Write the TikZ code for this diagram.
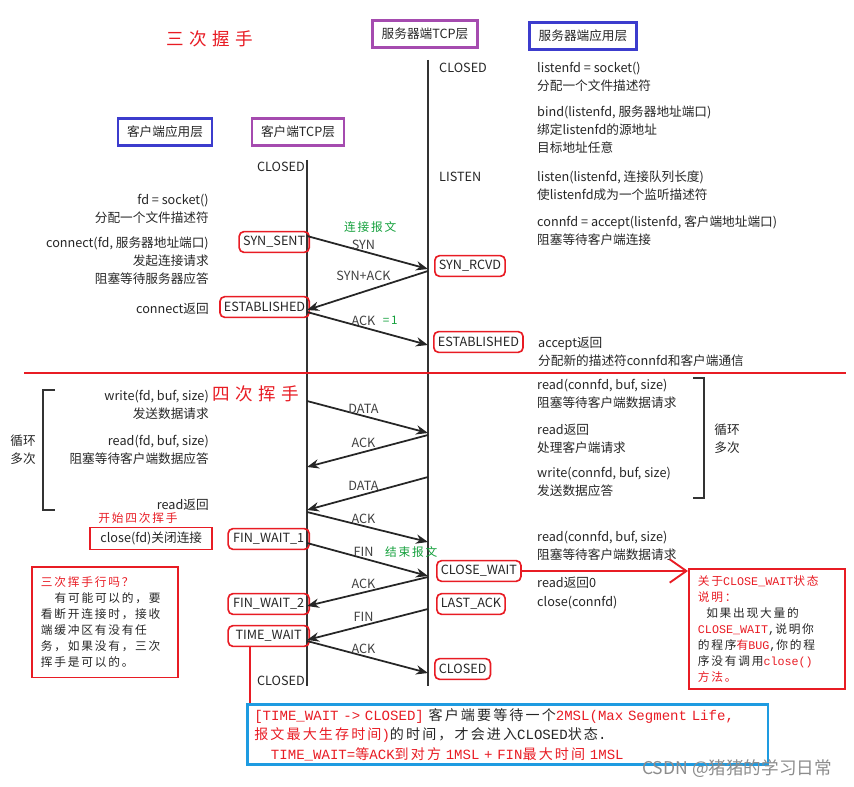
\documentclass[tikz,border=0pt]{standalone}
\usepackage{fontspec}
\setmainfont{Noto Sans CJK SC}
\newfontfamily\notefont[LetterSpace=15]{Noto Sans CJK SC}
\newfontfamily\titlefont[LetterSpace=30]{Noto Sans CJK SC}
\newfontfamily\notemono{Liberation Mono}
\usetikzlibrary{positioning,arrows.meta}

\definecolor{tcpred}{RGB}{232,28,36}
\definecolor{layerpurple}{RGB}{165,75,175}
\definecolor{layerblue}{RGB}{60,60,205}
\definecolor{notecyan}{RGB}{30,155,225}
\definecolor{notegreen}{RGB}{20,160,60}

\newcommand{\mn}[1]{{\notemono #1}}
\newcommand{\rd}[1]{\textcolor{tcpred}{#1}}

\begin{document}
\begin{tikzpicture}[x=0.03cm, y=-0.03cm,
  font=\fontsize{10.8}{15.3}\selectfont, text=black!85,
  layer/.style={draw=#1, line width=2.2pt, inner xsep=0.27cm, minimum height=0.8cm},
  state/.style={draw=tcpred, line width=1.4pt, rounded corners=4pt, inner xsep=0.12cm,
    inner ysep=0pt, minimum height=0.62cm},
  apptext/.style={align=left, inner sep=0pt},
  timeline/.style={line width=2.2pt, black!80},
  msg/.style={line width=1.5pt, black!85, -{Stealth[length=3.6mm,width=2.8mm]}},
  msglabel/.style={midway, above, inner sep=2pt, xshift=-0.12cm, text=black!75},
  redline/.style={draw=tcpred, line width=1.6pt},
  bracket/.style={line width=1.6pt, black!80},
  notebox/.style={draw=tcpred, line width=1.6pt, align=left, anchor=north west,
    font=\notefont\fontsize{10}{13.6}\selectfont},
  greennote/.style={text=notegreen, font=\notefont\fontsize{10}{12}\selectfont, inner sep=0pt},
  heading/.style={text=tcpred, font=\titlefont\fontsize{15}{18}\selectfont, inner sep=0pt}
]
\useasboundingbox (0,0) rectangle (854,787);

% titles and layers
\node[heading] (threeway) at (210,39) {三次握手};
\node[heading] (fourway) at (256,394) {四次挥手};
\node[layer=layerpurple] (srvtcp) at (425,34) {服务器端TCP层};
\node[layer=layerblue] (srvapp) at (583,36) {服务器端应用层};
\node[layer=layerblue] (cliapp) at (165,132) {客户端应用层};
\node[layer=layerpurple] (clitcp) at (298,132) {客户端TCP层};

% time lines
\coordinate (ctop) at (307,160);
\coordinate (cbot) at (307,686);
\coordinate (stop) at (428,60);
\coordinate (sbot) at (428,686);
\draw[timeline] (ctop) -- (cbot);
\draw[timeline] (stop) -- (sbot);

% client side
\node[anchor=east, inner sep=0pt] (cclosed) at (305,167) {CLOSED};
\node[apptext, anchor=east, align=right] (clisock) at (209,208.5) {fd = socket()\\分配一个文件描述符};
\node[apptext, anchor=east, align=right] (cliconn) at (209,260.5) {connect(fd, 服务器地址端口)\\发起连接请求\\阻塞等待服务器应答};
\node[apptext, anchor=east] (cliconnret) at (209,309) {connect返回};
\node[state, anchor=east] (synsent) at (310,242) {SYN\_SENT};
\node[state, anchor=east] (cestab) at (310,307) {ESTABLISHED};
\node[apptext, anchor=east, align=right] (cliwrite) at (209,405) {write(fd, buf, size)\\发送数据请求};
\node[apptext, anchor=east, align=right] (cliread) at (209,449.5) {read(fd, buf, size)\\阻塞等待客户端数据应答};
\node[apptext, anchor=east] (clireadret) at (209,505) {read返回};
\node[align=center, inner sep=0pt] (cliloop) at (23,450) {循环\\多次};
\draw[bracket] (55,390) -| (43,510) -- (55,510);
\node[text=tcpred, font=\notefont\fontsize{10}{12}\selectfont, inner sep=0pt] (fourstart) at (138,518) {开始四次挥手};
\node[draw=tcpred, line width=1.6pt, inner xsep=0.3cm, minimum height=0.66cm, anchor=east] (cliclose) at (213,538.5) {close(fd)关闭连接};
\node[state, anchor=east, minimum width=2.43cm] (finwait1) at (310,539) {FIN\_WAIT\_1};
\node[state, anchor=east, minimum width=2.43cm] (finwait2) at (310,604) {FIN\_WAIT\_2};
\node[state, anchor=east, minimum width=2.43cm] (timewait) at (310,636) {TIME\_WAIT};
\node[anchor=east, inner sep=0pt] (cclosed2) at (305,681) {CLOSED};

% server side
\node[anchor=west, inner sep=0pt] (sclosed) at (439,68) {CLOSED};
\node[anchor=west, inner sep=0pt] (slisten) at (439,177) {LISTEN};
\node[apptext, anchor=west] (srvsock) at (537,77) {listenfd = socket()\\分配一个文件描述符};
\node[apptext, anchor=west] (srvbind) at (537,129.5) {bind(listenfd, 服务器地址端口)\\绑定listenfd的源地址\\目标地址任意};
\node[apptext, anchor=west] (srvlisten) at (537,186) {listen(listenfd, 连接队列长度)\\使listenfd成为一个监听描述符};
\node[apptext, anchor=west] (srvaccept) at (537,231) {connfd = accept(listenfd, 客户端地址端口)\\阻塞等待客户端连接};
\node[state, anchor=west] (synrcvd) at (434,266) {SYN\_RCVD};
\node[state, anchor=west] (sestab) at (433,342) {ESTABLISHED};
\node[apptext, anchor=west] (srvaccret) at (538,351.5) {accept返回\\分配新的描述符connfd和客户端通信};
\node[apptext, anchor=west] (srvread) at (537,394) {read(connfd, buf, size)\\阻塞等待客户端数据请求};
\node[apptext, anchor=west] (srvreadret) at (537,438.5) {read返回\\处理客户端请求};
\node[apptext, anchor=west] (srvwrite) at (537,481.5) {write(connfd, buf, size)\\发送数据应答};
\draw[bracket] (693,378) -| (704,498) -- (693,498);
\node[align=center, inner sep=0pt] (srvloop) at (727,439) {循环\\多次};
\node[apptext, anchor=west] (srvread2) at (537,545.5) {read(connfd, buf, size)\\阻塞等待客户端数据请求};
\node[apptext, anchor=west] (srvread0) at (537,583) {read返回0};
\node[apptext, anchor=west] (srvclose) at (537,603) {close(connfd)};
\node[state, anchor=west] (closewait) at (436,571) {CLOSE\_WAIT};
\node[state, anchor=west] (lastack) at (436,604) {LAST\_ACK};
\node[state, anchor=west] (sclosed2) at (434,669) {CLOSED};

% messages
\foreach \i/\y in {1/236, 2/310, 3/312, 4/401, 5/467, 6/510, 7/512, 8/543, 9/606, 10/640, 11/641}
  \coordinate (c\i) at (307,\y);
\foreach \i/\y in {1/269, 2/271, 3/345, 4/433, 5/435, 6/477, 7/542, 8/576, 9/577, 10/609, 11/673}
  \coordinate (s\i) at (428,\y);
\foreach \f/\t/\lab/\dy [count=\i] in {c1/s1/SYN/0, s2/c2/SYN+ACK/0.2, c3/s3/ACK/0, c4/s4/DATA/0,
    s5/c5/ACK/0, s6/c6/DATA/0, c7/s7/ACK/0, c8/s8/FIN/0, s9/c9/ACK/0, s10/c10/FIN/0, c11/s11/ACK/0}
  \draw[msg] (\f) -- (\t) node[msglabel, yshift=\dy cm] (lab\i) {\lab};
\node[greennote, above=0.1cm of lab1, xshift=0.2cm] (synnote) {连接报文};
\node[greennote, right=0.12cm of lab3] (ackone) {=1};
\node[greennote, right=0.25cm of lab8] (finnote) {结束报文};

\draw[redline] (24,373) -- (846,373);

% notes
\node[notebox, text width=3.84cm, inner xsep=0.27cm, inner ysep=0.3cm] (handnote) at (31,566) {%
\rd{三次挥手行吗？}\\
\hspace*{0.41cm}有可能可以的，要\\
看断开连接时，接收\\
端缓冲区有没有任\\
务，如果没有，三次\\
挥手是可以的。};

\node[notebox, text width=4.14cm, inner xsep=0.27cm, inner ysep=0.2cm] (cwnote) at (688,568) {%
\rd{关于\mn{CLOSE\_WAIT}状态}\\
\rd{说明：}\\
\hspace*{0.25cm}如果出现大量的\\
\rd{\mn{CLOSE\_WAIT}}\mn{,}说明你\\
的程序\rd{有\mn{BUG}}\mn{,}你的程\\
序没有调用\rd{\mn{close()}}\\
\rd{方法。}};
\draw[redline, -{Straight Barb[length=5mm,width=7mm]}] (closewait.east) -- (closewait.east -| cwnote.west);

\node[notebox, draw=notecyan, line width=2.2pt, text width=15.2cm, inner xsep=0.21cm, inner ysep=0.12cm,
  font=\notefont\fontsize{12}{16.6}\selectfont] (timenote) at (246,703) {%
\rd{\mn{[TIME\_WAIT -> CLOSED]}} 客户端要等待一个\rd{\mn{2MSL(Max Segment Life,}}\\
\rd{报文最大生存时间\mn{)}}的时间，才会进入\mn{CLOSED}状态\mn{.}\\
\hspace*{0.5cm}\rd{\mn{TIME\_WAIT=}等\mn{ACK}到对方\mn{ 1MSL + FIN}最大时间\mn{ 1MSL}}};
\draw[redline] ([xshift=-0.55cm]timewait.south) -- ([xshift=-0.55cm]timewait.south |- timenote.north);

\node[text=black!45, font=\fontsize{15}{18}\selectfont, inner sep=0pt] (mark) at (737,769) {CSDN @猪猪的学习日常};

\end{tikzpicture}
\end{document}
